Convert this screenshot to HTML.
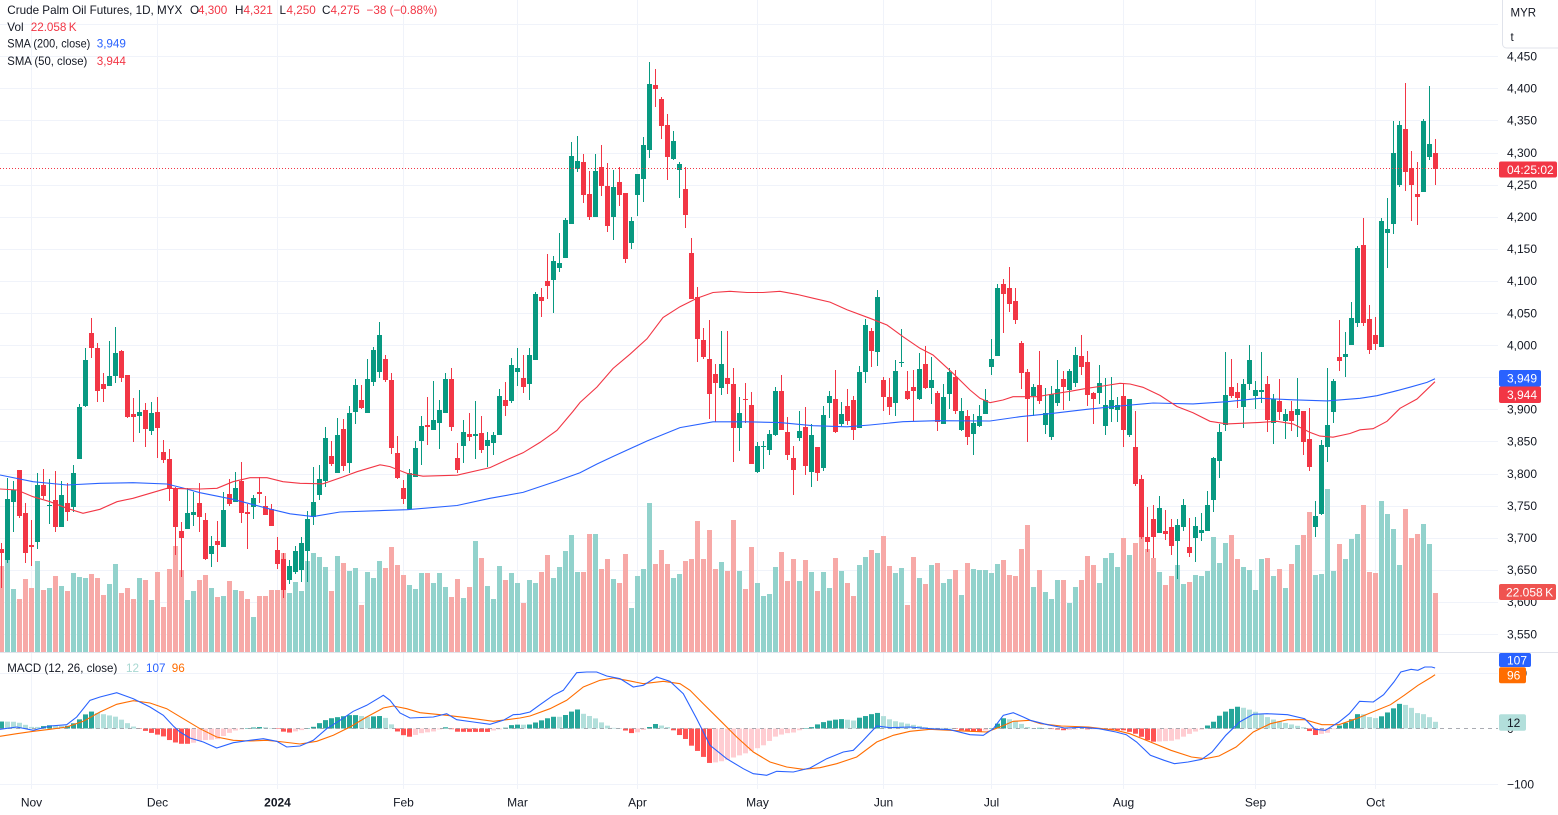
<!DOCTYPE html>
<html><head><meta charset="utf-8">
<style>
html,body{margin:0;padding:0;background:#fff;width:1558px;height:815px;overflow:hidden;}
svg{display:block;font-family:"Liberation Sans",Arial,sans-serif;}
</style></head>
<body>
<svg id="c" width="1558" height="815" viewBox="0 0 1558 815" xmlns="http://www.w3.org/2000/svg"></svg>
<script>
const D=[[0,549,553,543,588],[1,499,560,478,563],[1,490,502,481,532],[0,470,516,470,518],[0,513,553,503,563],
[0,545,547,520,566],[1,485,542,473,549],[0,485,496,469,499],[1,505,506,479,524],[0,500,527,471,532],
[1,495,527,481,527],[0,503,512,483,521],[1,473,507,465,512],[1,407,459,404,459],[1,360,406,348,407],
[0,333,348,318,358],[0,348,391,343,402],[0,384,389,373,402],[1,376,386,341,386],[1,353,376,327,383],
[0,351,378,350,382],[0,375,417,375,418],[0,414,417,398,442],[1,412,416,390,433],[0,410,429,403,447],
[1,413,431,402,435],[0,412,428,397,458],[0,452,460,440,463],[0,459,488,449,501],[0,488,527,487,555],
[0,531,538,522,577],[1,513,529,488,529],[1,512,515,492,526],[0,503,517,483,532],[0,520,559,513,560],
[1,546,554,536,567],[0,541,545,521,562],[1,510,547,492,547],[0,494,504,479,506],[1,488,502,472,502],
[0,481,513,462,523],[0,512,514,504,549],[1,498,507,495,519],[0,492,494,477,503],[0,506,515,496,515],
[0,509,526,504,526],[0,550,564,537,569],[0,559,590,553,598],[1,566,580,560,584],[1,551,572,546,574],
[1,543,570,537,582],[1,519,551,511,582],[1,502,517,467,525],[1,479,495,465,500],[1,438,481,427,487],
[0,456,464,441,466],[1,435,473,418,473],[0,429,466,419,471],[1,413,463,406,473],[1,385,412,379,424],
[0,400,408,385,409],[1,379,413,359,413],[1,350,382,347,386],[1,335,372,322,378],[0,359,380,355,382],
[0,380,448,373,454],[0,453,478,436,479],[0,488,499,480,504],[1,473,509,469,510],[1,448,477,441,477],
[1,426,441,416,465],[0,425,427,397,445],[1,420,430,381,430],[1,410,423,400,449],[1,379,413,373,413],
[0,379,427,368,431],[0,458,470,443,473],[1,432,446,420,463],[0,434,437,413,441],[1,434,436,401,459],
[0,433,450,416,453],[1,440,446,432,467],[1,435,443,432,455],[1,396,435,389,435],[0,400,406,382,416],
[1,365,401,358,403],[1,368,372,348,386],[0,378,387,355,393],[1,355,384,348,400],[1,294,360,292,360],
[0,297,301,288,317],[0,281,286,254,299],[1,261,280,256,313],[1,263,268,233,272],[1,220,258,218,258],
[1,156,224,142,224],[1,161,169,136,172],[0,162,195,154,203],[0,194,217,171,220],[1,171,217,154,217],
[0,167,186,145,196],[0,186,226,163,232],[1,187,217,170,240],[0,182,195,167,206],[0,193,259,193,263],
[1,221,243,217,249],[1,174,195,174,216],[1,145,179,137,202],[1,84,150,62,158],[0,85,89,69,107],
[0,99,126,97,139],[0,125,157,114,180],[1,141,159,131,160],[1,164,170,162,198],[0,189,215,167,228],
[0,253,299,238,299],[0,297,339,287,362],[0,340,357,328,359],[0,359,394,320,419],[0,374,383,364,422],
[1,364,388,331,395],[0,378,384,331,394],[0,384,428,368,462],[1,413,428,397,451],[0,399,400,383,423],
[0,405,464,392,464],[1,446,472,442,473],[1,446,447,441,469],[1,434,450,430,455],[1,391,435,387,436],
[0,391,430,375,430],[0,432,455,417,460],[0,458,470,446,495],[1,431,438,411,441],[0,427,466,407,475],
[1,435,472,424,487],[0,447,473,447,481],[1,415,468,406,471],[1,396,403,391,418],[0,399,432,370,433],
[1,414,424,402,426],[0,406,421,389,425],[0,400,430,396,440],[1,372,428,366,428],[1,325,372,319,383],
[0,331,351,328,367],[1,297,352,290,366],[0,380,397,377,411],[0,397,407,378,415],[1,371,403,360,416],
[1,362,363,329,367],[0,391,399,371,400],[0,387,391,370,421],[1,369,399,353,400],[0,364,388,346,389],
[1,380,388,357,404],[0,393,422,391,431],[1,397,424,384,424],[1,372,394,368,409],[0,377,411,370,414],
[1,411,430,398,431],[0,416,437,410,445],[1,423,434,414,455],[1,416,426,405,427],[1,400,414,389,414],
[1,359,367,339,375],[1,288,356,284,356],[0,284,294,279,333],[0,288,304,267,312],[0,301,320,288,324],
[0,343,373,341,389],[0,372,399,369,442],[1,387,396,384,416],[0,385,401,351,404],[1,413,425,388,434],
[1,394,437,386,440],[1,389,403,360,406],[0,379,387,371,410],[1,371,390,369,401],[1,355,383,347,387],
[0,356,367,335,375],[0,362,395,351,406],[0,393,399,392,424],[1,383,393,365,404],[1,405,426,378,435],
[1,400,409,377,422],[1,405,410,397,422],[0,396,430,383,447],[1,399,435,399,437],[0,447,484,411,486],
[0,479,537,475,539],[0,537,542,507,552],[0,519,537,505,558],[1,508,533,496,533],[0,531,534,510,540],
[0,527,546,519,555],[1,525,541,519,579],[1,505,527,499,531],[0,547,553,518,557],[1,526,538,517,562],
[1,530,533,513,541],[1,505,531,491,531],[1,458,500,457,512],[1,432,461,424,478],[1,395,425,352,431],
[0,387,396,359,398],[0,392,398,383,408],[1,384,407,379,428],[1,360,384,345,390],[1,390,396,381,409],
[1,390,392,352,403],[0,384,420,376,432],[1,399,423,394,444],[0,401,412,379,420],[1,414,421,409,439],
[0,411,421,401,431],[1,409,415,378,437],[0,411,442,411,455],[0,439,467,408,471],[1,516,527,501,537],
[1,445,514,440,515],[1,425,447,368,462],[1,381,412,379,423],[0,357,361,320,371],[1,354,357,332,377],
[1,318,345,302,345],[1,248,323,246,327],[0,245,323,218,326],[0,319,350,305,354],[0,335,344,317,350],
[1,221,347,218,347],[1,229,233,198,268],[1,153,224,121,234],[1,125,185,121,187],[0,129,172,83,191],
[0,168,185,151,221],[0,194,197,162,225],[1,121,192,119,192],[1,144,157,86,160],[0,153,169,139,185]];
const V=[566,560,589,599,579,588,561,590,588,576,
586,591,573,577,578,574,578,595,584,564,
593,588,599,578,580,600,572,607,569,546,
570,600,591,580,575,588,597,596,581,590,
591,599,617,596,596,590,590,553,593,582,
591,561,553,557,567,591,556,563,571,568,
605,572,578,561,568,547,565,575,585,589,
573,573,583,573,587,597,579,598,587,541,
558,586,599,566,580,573,583,603,580,583,
572,555,578,567,551,535,572,572,534,534,
569,559,579,583,554,608,576,569,503,564,
550,564,578,574,561,559,521,559,530,569,
562,571,520,571,589,547,583,596,594,567,
552,581,559,581,560,572,591,572,588,558,
571,583,596,565,557,550,553,536,566,573,
568,605,557,578,584,565,563,583,579,570,
595,563,569,570,570,573,564,560,575,576,
549,525,587,570,592,599,580,580,603,587,
580,556,565,583,558,553,567,538,555,543,
536,549,558,572,585,576,565,584,582,575,
576,571,537,563,543,535,559,567,570,590,
559,558,576,569,588,564,545,535,512,575,
574,489,571,544,559,539,534,505,572,573,
501,514,529,565,509,538,534,524,544,593];
const S200=[0,475,33,481.7,67,485,100,483.3,133,482.7,167,484,183,488,200,492.7,233,499.3,267,508.3,290,513.8,313,516.6,340,512,407,509.7,457,505.5,490,498.3,523,492.4,557,481,580,472.8,597,464,613,456.5,647,441,680,427.6,713,421.8,747,421.8,780,422.6,813,425.7,847,426.8,870,425,903,421.7,937,420.7,990,421,1020,416.7,1053,413.3,1087,409.3,1120,406,1153,403,1193,403.9,1227,401.7,1260,398.3,1293,399.8,1327,400.9,1360,398.3,1377,395.7,1393,391.7,1410,387.2,1427,382.4,1435,378.7];
const S50=[0,489,17,490,33,496.7,50,501.7,67,508.3,83,513.3,100,509.3,117,501.7,133,498.3,150,493.3,167,488.3,183,488.7,200,489,217,488.3,233,481.7,250,477.7,267,477.7,283,481.7,300,483.3,323,483.8,343,476.9,357,471.7,380,464.8,390,466.6,407,473.4,423,476.2,457,475.2,490,467.6,507,459.7,523,452.8,540,442.4,557,430.3,573,411.4,580,402.5,597,387,613,368.5,630,354.2,647,338.8,663,317.5,680,306.7,697,298.2,713,292.5,730,291.3,747,292.5,763,292.5,780,291.3,797,294.4,813,298.2,830,302.1,847,309.8,870,318.3,887,325,903,336.7,920,348.3,933,355,953,373.3,970,390,980,398.3,990,402.7,1003,400,1013,396.7,1037,396.7,1053,394,1070,391.3,1087,388.3,1103,386,1120,383.3,1130,384,1143,387.3,1160,395.4,1177,406.5,1193,412.8,1210,421.3,1227,423.9,1260,422.4,1277,421.3,1293,423.9,1310,432.4,1320,436.1,1333,437.2,1350,433.5,1360,429.8,1373,428.7,1387,421.3,1400,408.3,1417,399,1435,381.7];
const MB=[0,729.3,16.7,727,33.3,730.3,50,726,66.7,724.7,76.7,717,90,700.3,100,697,116.7,692.7,133.3,698.7,150,707,163.3,715.3,173.3,726,180,732,190,738,203.3,742,216.7,748,233.3,742.7,250,740.3,263.3,738.7,276.7,741.3,286.7,747,300,746,313.3,740.3,326.7,728.7,340,720.3,353.3,711.3,366.7,705.3,383.3,695.3,390,700.3,400,713,410,718,433.3,717,446.7,713.7,456.7,719.7,473.3,722,490,724.3,503.3,720.3,513.3,714.7,520,714.3,
530,712,540,704.7,553.3,695.3,563.3,690.3,576.7,672.7,586.7,672,596.7,672,606.7,676,620,678.7,633.3,687,643.3,685.3,656.7,677,670,681.3,683.3,693.7,696.7,718.7,710,745.3,726.7,758.7,743.3,768.7,753.3,773.7,766.7,775.3,776.7,771.3,793.3,772,810,768,826.7,758.7,843.3,752,853.3,750.3,863.3,740.3,876.7,726,890,727.7,910,727,930,728.7,950,729.7,970,734.7,983.3,735.3,993.3,728.7,1003.3,715.3,1013.3,712.7,1023.3,717,
1030.3,720.3,1047.4,724.7,1064.6,728,1081.7,727.3,1098.9,728.7,1116,732,1126.3,734.7,1136.6,742,1150.4,755.3,1164.1,760.3,1174.4,763.7,1188.1,762,1201.8,759.3,1212.1,752,1225.8,735.3,1239.6,722,1253.3,714.3,1267,713.7,1287.6,714.7,1304.7,718.7,1315,729.3,1325.3,730.3,1339,722,1349.3,713.7,1359.6,701.3,1373.3,702,1383.6,694.7,1393.9,682,1400.8,672,1411.1,669.3,1417.9,670.3,1424.8,667,1431.7,667,1435.1,668];
const MO=[0,736.3,16.7,733.7,33.3,731.3,50,729.3,66.7,727,83.3,721.3,100,712,116.7,704.3,133.3,700.7,150,703,166.7,708.7,183.3,718.7,200,728.7,216.7,737,233.3,740.3,250,741,266.7,740.3,283.3,742,300,744,316.7,741.3,333.3,735.3,350,727,366.7,717,383.3,708,393.3,706,406.7,708.7,420,712.7,446.7,715.3,466.7,717.7,493.3,721.3,506.7,719.7,520,718,
530,716,550,708.7,566.7,700.3,583.3,687,600,680.3,613.3,678,626.7,680.3,643.3,683.7,663.3,681.3,680,683.7,690,690.3,703.3,703.7,720,720.3,736.7,737,753.3,752,770,762,786.7,767,803.3,769.3,820,767.7,836.7,763.7,856.7,757,876.7,742,893.3,735.3,910,731.3,930,729.3,950,730.3,970,731.3,986.7,732,1000,727,1013.3,721.3,1030,720.3,
1040.6,723.7,1061.2,726,1088.6,727,1116,730.3,1129.8,733.7,1150.4,742,1170.9,750.3,1191.5,757,1205.2,758.7,1219,756,1236.1,747,1253.3,732,1270.4,723.7,1287.6,719.7,1304.7,719.7,1321.9,724.7,1339,724.7,1356.2,718.7,1376.8,710.3,1390.5,704.7,1404.2,695.3,1418,685.3,1431.7,677,1435.1,674.7];

function interp(P,x){
  if(x<=P[0]) return P[1];
  for(let k=2;k<P.length;k+=2){
    if(x<=P[k]){const x0=P[k-2],y0=P[k-1],x1=P[k],y1=P[k+1];return y0+(y1-y0)*(x-x0)/(x1-x0);}
  }
  return P[P.length-1];
}
function pts(P){let a=[];for(let k=0;k<P.length;k+=2)a.push(P[k]+','+P[k+1]);return a.join(' ');}
const F='"Liberation Sans",Arial,sans-serif';
function T(x,y,str,size,fill,extra){return `<text x="${x}" y="${y}" font-size="${size}" fill="${fill}" ${extra||''}>${str}</text>`;}

let s='';
const GR='#f0f3fa';
// price grid
for(let p=4500;p>=3550;p-=50){const y=Math.round(88.3+(4400-p)*0.642)+0.5;s+=`<line x1="0" y1="${y}" x2="1498" y2="${y}" stroke="${GR}" stroke-width="1"/>`;}
[673,784].forEach(y=>{s+=`<line x1="0" y1="${y+0.5}" x2="1498" y2="${y+0.5}" stroke="${GR}" stroke-width="1"/>`;});
const MK=[[5,'Nov'],[26,'Dec'],[46,'2024'],[67,'Feb'],[86,'Mar'],[106,'Apr'],[126,'May'],[147,'Jun'],[165,'Jul'],[187,'Aug'],[209,'Sep'],[229,'Oct']];
MK.forEach(m=>{const x=6*m[0]+1.5;s+=`<line x1="${x}" y1="0" x2="${x}" y2="652" stroke="${GR}"/><line x1="${x}" y1="653" x2="${x}" y2="789" stroke="${GR}"/>`;});
// separator
s+=`<line x1="0" y1="652.5" x2="1558" y2="652.5" stroke="#e0e3eb" stroke-width="1"/>`;
// volume
for(let i=0;i<240;i++){const c=D[i][0]?'#92d2cc':'#f7a9a7';s+=`<rect x="${6*i-1}" y="${V[i]}" width="5" height="${652-V[i]}" fill="${c}"/>`;}
// candles
for(let i=0;i<240;i++){const d=D[i];const c=d[0]?'#089981':'#f23645';
  s+=`<rect x="${6*i+1}" y="${d[3]}" width="1" height="${d[4]-d[3]}" fill="${c}"/>`;
  s+=`<rect x="${6*i-1}" y="${d[1]}" width="5" height="${Math.max(1,d[2]-d[1])}" fill="${c}"/>`;}
// SMAs
s+=`<polyline points="${pts(S200)}" fill="none" stroke="#2962ff" stroke-width="1.1"/>`;
s+=`<polyline points="${pts(S50)}" fill="none" stroke="#f23645" stroke-width="1.1"/>`;
// current price dotted line
s+=`<line x1="0" y1="168.5" x2="1498" y2="168.5" stroke="#f23645" stroke-width="1" stroke-dasharray="1 2"/>`;
// MACD hist
const Z=728.5;let prev=0;
for(let i=0;i<240;i++){const x=6*i+1.5;const h=interp(MO,x)-interp(MB,x);
  let c;if(h>=0)c=(h>prev)?'#26a69a':'#b2dfdb';else c=(h<prev)?'#ff5252':'#ffcdd2';
  prev=h;const top=h>=0?Z-h:Z;s+=`<rect x="${6*i-1}" y="${top.toFixed(2)}" width="5" height="${Math.max(0.5,Math.abs(h)).toFixed(2)}" fill="${c}"/>`;}
s+=`<line x1="0" y1="728.5" x2="1498" y2="728.5" stroke="#9598a1" stroke-width="1" stroke-dasharray="4 4" opacity="0.8"/>`;
s+=`<polyline points="${pts(MO)}" fill="none" stroke="#ff6d00" stroke-width="1.1"/>`;
s+=`<polyline points="${pts(MB)}" fill="none" stroke="#2962ff" stroke-width="1.1"/>`;

// right axis price labels
for(let p=4450;p>=3550;p-=50){const y=88.3+(4400-p)*0.642;const str=String(p).replace(/(\d)(\d{3})$/,'$1,$2');s+=T(1507,(y+4.3).toFixed(1),str,12,'#131722');}
s+=T(1507,677.3,'100',12,'#131722');
s+=T(1507,733,'0',12,'#131722');
s+=T(1507,788.6,'\u2212100',12,'#131722');
// boxes
s+=`<rect x="1499" y="161.5" width="58" height="16" rx="2" fill="#f23645"/>`+T(1507,173.9,'04:25:02',12,'#fff');
s+=`<rect x="1499" y="370" width="42" height="16.5" rx="2" fill="#2962ff"/>`+T(1507,382.5,'3,949',12,'#fff');
s+=`<rect x="1499" y="386.5" width="42" height="16.5" rx="2" fill="#f23645"/>`+T(1507,399.2,'3,944',12,'#fff');
s+=`<rect x="1499" y="584" width="57" height="16" rx="2" fill="#ef5350"/>`+T(1506,596.3,'22.058\u2009K',12,'#fff');
s+=`<rect x="1499" y="653" width="32" height="14" rx="2" fill="#2962ff"/>`+T(1507,664.3,'107',12,'#fff');
s+=`<rect x="1499" y="667.3" width="27" height="16" rx="2" fill="#ff6d00"/>`+T(1507,679.6,'96',12,'#fff');
s+=`<rect x="1499" y="714.3" width="27" height="16.5" rx="2" fill="#b2dfdb"/>`+T(1507,726.8,'12',12,'#131722');
// MYR box
s+=`<path d="M1502.5,-1 V44 a4,4 0 0 0 4,4 H1559 V-1 Z" fill="#fff" stroke="#e0e3eb" stroke-width="1"/>`;
s+=T(1510.5,16.5,'MYR',11.5,'#131722')+T(1510.5,41,'t',11.5,'#131722');
// time labels
MK.forEach(m=>{const x=6*m[0]+1.5;s+=T(x,806.3,m[1],12,'#131722',`text-anchor="middle"${m[1]==='2024'?' font-weight="bold"':''}`);});
// legend
const LC='#131722',RD='#f23645',BL='#2962ff';
s+=T(7.3,14.2,'Crude Palm Oil Futures, 1D, MYX',11.7,LC,'textLength="175" lengthAdjust="spacingAndGlyphs"');
s+=T(190,14.2,'O',11.7,LC)+T(198,14.2,'4,300',11.7,RD);
s+=T(235,14.2,'H',11.7,LC)+T(243.5,14.2,'4,321',11.7,RD);
s+=T(279.5,14.2,'L',11.7,LC)+T(286.5,14.2,'4,250',11.7,RD);
s+=T(322,14.2,'C',11.7,LC)+T(330.5,14.2,'4,275',11.7,RD);
s+=T(366.5,14.2,'\u221238 (\u22120.88%)',11.7,RD);
s+=T(7.3,31,'Vol',11.7,LC)+T(30.7,31,'22.058\u2009K',11.7,RD);
s+=T(7.3,47.6,'SMA (200, close)',11.7,LC,'textLength="83" lengthAdjust="spacingAndGlyphs"')+T(96.7,47.6,'3,949',11.7,BL);
s+=T(7.3,65,'SMA (50, close)',11.7,LC,'textLength="80" lengthAdjust="spacingAndGlyphs"')+T(96.7,65,'3,944',11.7,RD);
s+=T(7.3,672,'MACD (12, 26, close)',11.7,LC,'textLength="110" lengthAdjust="spacingAndGlyphs"');
s+=T(126,672,'12',11.7,'#a8d8d2')+T(146,672,'107',11.7,BL)+T(171.7,672,'96',11.7,'#ff6d00');
document.getElementById('c').innerHTML=s;
</script>
</body></html>
